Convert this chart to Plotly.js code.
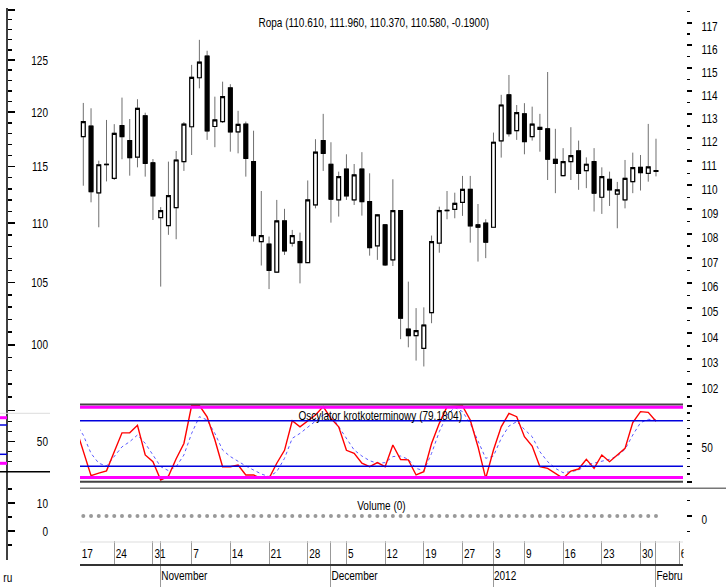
<!DOCTYPE html>
<html>
<head>
<meta charset="utf-8">
<script src="https://cdn.plot.ly/plotly-3.0.1.min.js"></script>
<style>
html,body{margin:0;padding:0;background:#fff;}
#chart{width:726px;height:587px;}
</style>
</head>
<body>
<div id="chart"></div>
<script>
// ---------- DATA ----------
const days = [
 '2011-10-17','2011-10-18','2011-10-19','2011-10-20','2011-10-21',
 '2011-10-24','2011-10-25','2011-10-26','2011-10-27','2011-10-28',
 '2011-10-31','2011-11-01','2011-11-02','2011-11-03','2011-11-04',
 '2011-11-07','2011-11-08','2011-11-09','2011-11-10','2011-11-11',
 '2011-11-14','2011-11-15','2011-11-16','2011-11-17','2011-11-18',
 '2011-11-21','2011-11-22','2011-11-23','2011-11-24','2011-11-25',
 '2011-11-28','2011-11-29','2011-11-30','2011-12-01','2011-12-02',
 '2011-12-05','2011-12-06','2011-12-07','2011-12-08','2011-12-09',
 '2011-12-12','2011-12-13','2011-12-14','2011-12-15','2011-12-16',
 '2011-12-19','2011-12-20','2011-12-21','2011-12-22','2011-12-23',
 '2011-12-27','2011-12-28','2011-12-29','2011-12-30',
 '2012-01-03','2012-01-04','2012-01-05','2012-01-06',
 '2012-01-09','2012-01-10','2012-01-11','2012-01-12','2012-01-13',
 '2012-01-16','2012-01-17','2012-01-18','2012-01-19','2012-01-20',
 '2012-01-23','2012-01-24','2012-01-25','2012-01-26','2012-01-27',
 '2012-01-30','2012-01-31','2012-02-01','2012-02-02','2012-02-03','2012-02-06'
];

// candles: 2011-10-18 .. 2012-02-01
const priceStart = '2011-10-18';
const open  = [112.05,112.50,109.68,110.86,110.29,112.52,111.88,111.18,112.94,110.94,
               108.66,108.33,109.07,110.99,112.47,114.58,115.53,112.48,112.69,114.14,
               112.25,112.58,110.99,107.67,107.57,106.43,108.52,107.61,107.67,106.82,
               109.18,111.88,110.88,109.39,110.68,109.39,110.68,109.32,107.50,108.36,
               106.93,108.95,104.16,103.90,103.40,104.81,107.61,108.94,109.00,109.29,
               109.83,108.36,108.43,108.26,111.87,113.84,112.30,113.02,112.05,112.44,
               112.38,111.09,110.40,110.99,111.44,110.61,110.99,109.50,110.25,109.63,
               109.39,110.15,110.75,110.50,110.61];
const high  = [113.49,113.26,111.03,112.76,112.58,113.72,112.80,113.65,113.07,111.10,
               109.09,110.99,111.44,112.67,115.14,116.24,115.76,113.76,114.41,114.30,
               113.15,112.69,112.30,109.76,107.88,109.39,109.02,108.15,108.04,110.20,
               111.94,113.02,111.81,110.57,111.30,110.89,111.39,110.50,108.80,108.39,
               110.25,108.97,106.05,104.99,105.02,107.92,109.11,109.76,109.69,110.39,
               110.39,109.22,108.59,112.22,113.84,114.70,113.40,113.48,113.33,113.02,
               114.83,112.38,111.56,112.45,111.88,111.17,111.56,110.75,110.57,110.14,
               111.06,111.37,111.27,112.59,111.96];
const low   = [109.98,109.29,108.26,110.16,110.22,111.09,110.40,110.75,110.36,108.56,
               105.85,107.95,107.77,110.60,111.27,114.12,111.91,111.60,112.63,111.41,
               111.34,110.36,107.67,106.70,105.75,106.40,107.13,107.47,105.98,106.80,
               109.04,110.60,108.45,108.70,109.39,109.18,108.74,107.10,106.93,106.68,
               106.68,103.76,103.44,102.92,102.69,104.39,107.22,108.59,108.63,108.73,
               107.63,106.86,107.00,108.25,111.16,112.05,111.91,111.30,111.88,111.41,
               110.22,109.67,110.38,110.22,109.81,109.88,108.91,108.81,109.14,108.22,
               109.04,109.67,109.78,110.15,110.37];
const close = [112.69,109.73,110.86,110.88,112.19,112.05,111.16,113.26,110.92,109.56,
               108.95,109.57,111.06,112.58,114.60,115.26,112.29,112.76,113.76,112.25,
               112.57,111.13,107.92,107.92,106.50,108.52,107.29,107.92,106.82,109.39,
               111.39,111.34,109.42,110.36,109.56,110.43,109.32,107.43,108.77,106.73,
               108.95,104.59,103.90,104.10,104.32,107.67,108.95,108.96,109.25,109.83,
               108.32,108.26,107.65,111.81,113.40,112.17,113.07,111.84,112.58,112.36,
               111.09,110.92,110.99,111.24,110.50,110.88,109.67,110.36,109.81,109.81,
               110.29,110.74,110.53,110.77,110.58];

// volume (same days as candles)
const volume = [0,0,0,0,0,0,0,0,0,0,0,0,0,0,0,0,0,0,0,0,0,0,0,0,0,
                0,0,0,0,0,0,0,0,0,0,0,0,0,0,0,0,0,0,0,0,0,0,0,0,0,
                0,0,0,0,0,0,0,0,0,0,0,0,0,0,0,0,0,0,0,0,0,0,0,0,0];

// oscillator: 2011-10-17 .. 2012-02-01
const oscStart = '2011-10-17';
const oscK = [72,41,7.7,11,14,39,64,64,74,35,26,2,7,30,50,100,100,85,55,19.5,19.5,
              21.7,8.6,8.6,4.2,4.2,24,41,80,72,80,87.5,98.5,83,72,41,37,24,19.5,24.8,
              19.5,48,29,28.5,8.6,13,50,76.5,98.5,99.3,99.3,81,45.8,4.2,41.4,72,89.7,
              85.3,59,46.7,19.5,17.3,10.7,4.2,13.8,16.4,29.2,17.3,34.9,26.1,34.9,43.6,
              77.4,91.9,91,79.1804];
const oscD = [77,61,37,24,20.4,32.8,45.6,52.4,61.2,50.2,34.9,19.5,14.3,19.5,34.9,63.3,
              85.3,81,63.3,41.4,32.8,26.1,20.4,15.1,9.9,6.4,12.9,30.5,56.8,63.3,71.3,
              78.7,87.5,87.5,72,56.8,41.4,33.5,27.4,24,24.8,32.8,33.5,29.2,17.3,14.3,37,
              65.6,87.5,97.6,91.9,76.5,52.4,30.5,33.5,56.8,73,78.7,68.6,58.9,39.2,26.1,
              17.3,11.6,12.9,15.1,21.7,24,26.1,29.2,33.5,42.3,61.2,77.4,81.8,81];
const oscLevels = [80, 20];

// axis ticks / labels
const dateTicks  = ['2011-10-24','2011-10-31','2011-11-07','2011-11-14','2011-11-21','2011-11-28',
                    '2011-12-05','2011-12-12','2011-12-19','2011-12-27','2012-01-03','2012-01-09',
                    '2012-01-16','2012-01-23','2012-01-30','2012-02-06'];
const monthStarts = ['2011-11-01','2011-12-01','2012-01-03','2012-02-01'];
const monthLabels = ['November','December','2012','Febru'];
const priceTicksRight = [102,103,104,105,106,107,108,109,110,111,112,113,114,115,116,117];
const priceTicksLeft  = [100,105,110,115,120,125];
const priceTicksLeftExtra = [95,130];

// ---------- BUILD ----------
const FONT = 'Liberation Sans, Arial, sans-serif';
const FS = 13;
const SQUEEZE = 0.77;
const idx = d => days.indexOf(d);
const p0 = idx(priceStart), o0 = idx(oscStart);
const xPrice = open.map((_, i) => p0 + i);
const xOsc = oscK.map((_, i) => o0 + i);
const bodyHigh = open.map((o, i) => Math.max(o, close[i]));
const bodyLow  = open.map((o, i) => Math.min(o, close[i]));

const W = 726, H = 587;
const px = v => v / W, py = v => 1 - v / H;

const rowTickVals = [...new Set([...dateTicks, ...monthStarts])].map(idx).sort((a,b)=>a-b);
const rowTickText = rowTickVals.map(v => dateTicks.includes(days[v]) ? String(+days[v].slice(8)) : '');

const lastI = close.length - 1;
const chg = close[lastI] - close[lastI - 1];
const titleText = 'Ropa (' + [open[lastI], high[lastI], low[lastI], close[lastI]].map(v => v.toFixed(3)).join(', ') +
                  ', ' + chg.toFixed(4) + ')';
const oscText = 'Oscylator krotkoterminowy (' + oscK[oscK.length - 1].toFixed(4) + ')';
const volText = 'Volume (' + volume[volume.length - 1] + ')';

const rangeX = [0.574, 78.49];

function range(a, b, s) { const r = []; for (let v = a; v <= b + 1e-9; v += s) r.push(+v.toFixed(4)); return r; }

const carrier = (xa, ya, yv) => ({ type: 'scatter', mode: 'markers', x: [xPrice[0]], y: [yv], xaxis: xa, yaxis: ya, marker: { opacity: 0 }, hoverinfo: 'skip' });

const traces = [
  { type: 'candlestick', x: xPrice, open: open, high: high, low: low, close: close,
    xaxis: 'x', yaxis: 'y', whiskerwidth: 0, hoverinfo: 'skip',
    increasing: { line: { color: '#707070', width: 1 }, fillcolor: '#ffffff' },
    decreasing: { line: { color: '#707070', width: 1 }, fillcolor: '#000000' } },
  { type: 'candlestick', x: xPrice, open: open, high: bodyHigh, low: bodyLow, close: close,
    xaxis: 'x', yaxis: 'y', whiskerwidth: 0, hoverinfo: 'skip',
    increasing: { line: { color: '#000', width: 1.2 }, fillcolor: '#ffffff' },
    decreasing: { line: { color: '#000', width: 1.2 }, fillcolor: '#000000' } },
  { type: 'scatter', mode: 'lines', x: xOsc, y: oscD, xaxis: 'x', yaxis: 'y2',
    line: { color: '#5a5aff', width: 1, dash: 'dot' }, hoverinfo: 'skip' },
  { type: 'scatter', mode: 'lines', x: xOsc, y: oscK, xaxis: 'x', yaxis: 'y2',
    line: { color: '#ff0000', width: 1.4 }, hoverinfo: 'skip' },
  { type: 'scatter', mode: 'markers', x: xPrice, y: volume, xaxis: 'x', yaxis: 'y3',
    marker: { color: '#999', size: 4 }, hoverinfo: 'skip' },
  carrier('x', 'y4', 110), carrier('x', 'y5', 50), carrier('x', 'y6', 5),
  carrier('x', 'y7', 110), carrier('x', 'y8', 50), carrier('x', 'y9', 5),
  carrier('x2', 'y3', 0)
];

const tickFont = { family: FONT, size: FS, color: '#000' };
const rightPos = px(686);
const xDom = [px(80), px(683)];

const rightAxis = (extra) => Object.assign({
  anchor: 'free', position: rightPos, side: 'right',
  showline: false, showgrid: false, zeroline: false,
  ticks: 'outside', ticklen: 5, tickwidth: 2, tickcolor: '#000',
  tickmode: 'array', ticklabelstandoff: 7, tickfont: tickFont
}, extra);
const leftTickAxis = (extra) => Object.assign({
  anchor: 'free', position: px(7), side: 'right',
  showline: false, showgrid: false, zeroline: false, showticklabels: false,
  ticks: 'outside', ticklen: 7, tickwidth: 1.5, tickcolor: '#000', tickmode: 'array'
}, extra);
const leftLabelAxis = (extra) => Object.assign({
  anchor: 'free', position: px(48), side: 'left',
  showline: false, showgrid: false, zeroline: false, ticks: '', tickmode: 'array',
  tickfont: tickFont
}, extra);
const minorTicks = (vals, len) => ({ ticks: 'outside', tickmode: 'array', tickvals: vals, ticklen: len, tickwidth: 1.5, tickcolor: '#000' });

const layout = {
  width: W, height: H,
  margin: { l: 0, r: 0, t: 0, b: 0, pad: 0 },
  paper_bgcolor: '#fff', plot_bgcolor: 'rgba(0,0,0,0)',
  showlegend: false, hovermode: false,
  font: { family: FONT, size: FS, color: '#000' },
  xaxis: {
    domain: xDom, range: rangeX, anchor: 'free', position: py(565),
    showline: true, linecolor: '#333', linewidth: 2, showgrid: false, zeroline: false,
    ticks: 'inside', ticklen: 23, tickcolor: '#999', tickwidth: 1,
    tickmode: 'array', tickvals: rowTickVals, ticktext: rowTickText,
    ticklabelposition: 'inside right', ticklabeloverflow: 'allow', tickfont: tickFont,
    rangeslider: { visible: false }, fixedrange: true
  },
  xaxis2: {
    overlaying: 'x', domain: xDom, range: rangeX, anchor: 'free', position: 0, side: 'bottom',
    showline: false, showgrid: false, zeroline: false,
    ticks: 'inside', ticklen: 21, tickcolor: '#999', tickwidth: 1,
    tickmode: 'array', tickvals: monthStarts.map(idx), ticktext: monthLabels,
    ticklabelposition: 'inside right', ticklabeloverflow: 'allow', ticklabelstandoff: -2, tickfont: tickFont
  },
  yaxis: rightAxis({
    domain: [py(403), 1], type: 'log', range: [2.00551, 2.07192],
    tickvals: priceTicksRight, ticktext: priceTicksRight.map(String), ticklabelshift: 4,
    minor: minorTicks(range(101.5, 117.5, 1), 3)
  }),
  yaxis2: rightAxis({
    domain: [py(482), py(404)], range: [-0.66, 101.97],
    tickvals: [0, 50, 100], ticktext: ['', '50', ''], ticklabelshift: 4,
    minor: minorTicks([10,20,30,40,60,70,80,90], 3)
  }),
  yaxis3: rightAxis({
    domain: [py(541), py(488)], range: [-1.59, 1.78],
    tickvals: [0], ticktext: ['0'], ticklabelshift: 3,
    minor: minorTicks([-1, 1], 3)
  }),
  yaxis4: leftTickAxis({
    domain: [py(412), 1], type: 'log', range: [1.97718, 2.11730],
    tickvals: priceTicksLeft.concat(priceTicksLeftExtra),
    minor: minorTicks(range(95, 130, 1).filter(v => v % 5 !== 0), 4)
  }),
  yaxis5: leftTickAxis({
    domain: [py(472), py(412)], range: [19.7, 79.7],
    tickvals: [50], minor: minorTicks([20,30,40,60,70], 4)
  }),
  yaxis6: leftTickAxis({
    domain: [py(560), py(475)], range: [-10.36, 20],
    tickvals: [0, 10], minor: minorTicks([-5, 5, 15], 4)
  }),
  yaxis7: leftLabelAxis({ overlaying: 'y4', type: 'log', range: [1.97718, 2.11730],
    tickvals: priceTicksLeft, ticktext: priceTicksLeft.map(String) }),
  yaxis8: leftLabelAxis({ overlaying: 'y5', range: [19.7, 79.7], tickvals: [50], ticktext: ['50'] }),
  yaxis9: leftLabelAxis({ overlaying: 'y6', range: [-10.36, 20], tickvals: [0, 10], ticktext: ['0', '10'] }),
  shapes: [
    // left axis line
    { type: 'line', xref: 'paper', yref: 'paper', x0: px(7), x1: px(7), y0: py(8), y1: py(560), line: { color: '#000', width: 1.5 } },
    // left stray marks
    { type: 'line', xref: 'paper', yref: 'paper', x0: 0, x1: px(50), y0: py(413.3), y1: py(413.3), line: { color: '#ddd', width: 1 } },
    { type: 'line', xref: 'paper', yref: 'paper', x0: 0, x1: px(7), y0: py(417.7), y1: py(417.7), line: { color: '#ff00ff', width: 3 } },
    { type: 'line', xref: 'paper', yref: 'paper', x0: 0, x1: px(7), y0: py(425), y1: py(425), line: { color: '#0000dd', width: 1.5 } },
    { type: 'line', xref: 'paper', yref: 'paper', x0: 0, x1: px(7), y0: py(454.3), y1: py(454.3), line: { color: '#0000dd', width: 1.5 } },
    { type: 'line', xref: 'paper', yref: 'paper', x0: 0, x1: px(7), y0: py(463.3), y1: py(463.3), line: { color: '#ff00ff', width: 3 } },
    { type: 'line', xref: 'paper', yref: 'paper', x0: 0, x1: px(50), y0: py(471.7), y1: py(471.7), line: { color: '#000', width: 1.5 } },
    // oscillator frame
    { type: 'line', xref: 'paper', yref: 'paper', x0: xDom[0], x1: xDom[1], y0: py(404.5), y1: py(404.5), line: { color: '#444', width: 2 } },
    { type: 'line', xref: 'paper', yref: 'paper', x0: xDom[0], x1: xDom[1], y0: py(481.7), y1: py(481.7), line: { color: '#444', width: 2 } },
    { type: 'line', xref: 'paper', yref: 'paper', x0: xDom[0], x1: xDom[1], y0: py(407.2), y1: py(407.2), line: { color: '#ff00ff', width: 3 } },
    { type: 'line', xref: 'paper', yref: 'paper', x0: xDom[0], x1: xDom[1], y0: py(477.6), y1: py(477.6), line: { color: '#ff00ff', width: 3 } },
    ...oscLevels.map(v => ({ type: 'line', xref: 'x domain', yref: 'y2', x0: 0, x1: 1, y0: v, y1: v, line: { color: '#0000dd', width: 1.5 } })),
    // separators
    { type: 'line', xref: 'paper', yref: 'paper', x0: xDom[0], x1: 1, y0: py(488.3), y1: py(488.3), line: { color: '#777', width: 1.5 } },
    { type: 'line', xref: 'paper', yref: 'paper', x0: xDom[0], x1: xDom[1], y0: py(542), y1: py(542), line: { color: '#ddd', width: 1 } },
    // clip of date labels past the plot edge
    { type: 'rect', layer: 'above', xref: 'paper', yref: 'paper', x0: px(683.5), x1: px(700), y0: py(563), y1: py(544), fillcolor: '#fff', line: { width: 0 } }
  ],
  annotations: [
    { text: titleText, xref: 'paper', yref: 'paper', x: px(373.5), y: py(22), xanchor: 'center', yanchor: 'middle', showarrow: false, font: tickFont },
    { text: oscText, xref: 'paper', yref: 'paper', x: px(380), y: py(415.5), xanchor: 'center', yanchor: 'middle', showarrow: false, font: tickFont },
    { text: volText, xref: 'paper', yref: 'paper', x: px(381), y: py(505), xanchor: 'center', yanchor: 'middle', showarrow: false, font: tickFont },
    { text: String(+days[0].slice(8)), xref: 'paper', yref: 'paper', x: px(77.5), y: py(553), xanchor: 'left', yanchor: 'middle', showarrow: false, font: tickFont },
    { text: 'ru', xref: 'paper', yref: 'paper', x: 0, y: py(577), xanchor: 'left', yanchor: 'middle', showarrow: false, font: tickFont }
  ]
};

function squeezeText(gd) {
  gd.querySelectorAll('svg text').forEach(t => {
    const w = t.getComputedTextLength();
    if (w > 0) {
      t.setAttribute('lengthAdjust', 'spacingAndGlyphs');
      t.setAttribute('textLength', (w * SQUEEZE).toFixed(2));
    }
  });
}

Plotly.newPlot('chart', traces, layout, { staticPlot: true, displayModeBar: false }).then(squeezeText);
</script>
</body>
</html>
